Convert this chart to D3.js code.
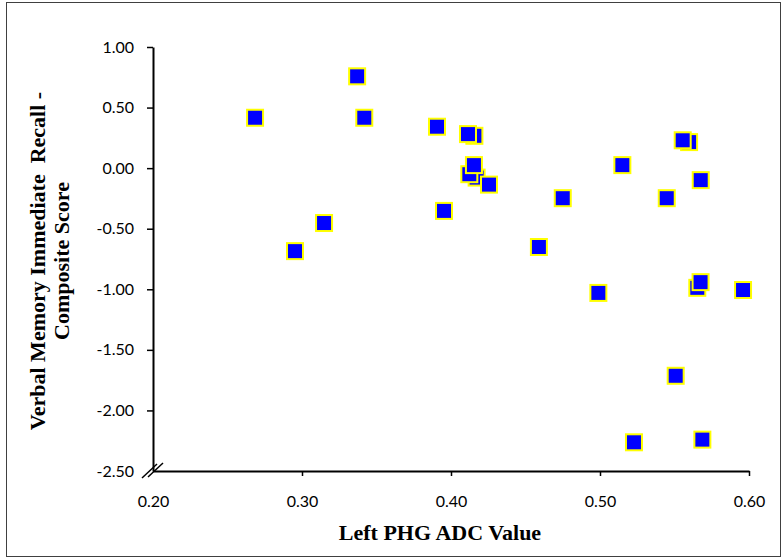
<!DOCTYPE html>
<html>
<head>
<meta charset="utf-8">
<script src="https://cdn.jsdelivr.net/npm/d3@7"></script>
<style>
  body { margin: 0; background: #fff; }
  svg { display: block; }
</style>
</head>
<body>
<div id="chart"></div>
<script>
// values, drawn back to front
const adcValues = [0.2685, 0.2953, 0.3148, 0.337, 0.3418, 0.3906, 0.3953,
    0.4157, 0.4114, 0.4172, 0.4255, 0.4123, 0.4154, 0.459, 0.475, 0.4989,
    0.515, 0.5228, 0.5448, 0.5508, 0.5598, 0.5555, 0.5653, 0.5675, 0.5676,
    0.5687, 0.596];
const recallScores = [0.416, -0.685, -0.453, 0.758, 0.416, 0.342, -0.353,
    0.267, 0.281, -0.078, -0.136, -0.05, 0.025, -0.651, -0.248, -1.03,
    0.025, -2.263, -0.248, -1.714, 0.215, 0.23, -0.988, -0.941, -0.099,
    -2.241, -1.006];
const xTicks = [0.2, 0.3, 0.4, 0.5, 0.6];
const yTicks = [1.0, 0.5, 0.0, -0.5, -1.0, -1.5, -2.0, -2.5];
const xTitle = "Left PHG ADC Value";
const yTitle = ["Verbal Memory Immediate  Recall -", "Composite Score"];

const width = 783, height = 560;
const plotLeft = 153, plotRight = 749, plotTop = 47, plotBottom = 471;

const svg = d3.select("#chart").append("svg")
    .attr("width", width)
    .attr("height", height);

// outer frame
svg.append("rect")
    .attr("x", 6.5).attr("y", 2.5)
    .attr("width", 774).attr("height", 554)
    .style("fill", "none")
    .style("stroke", "#404040")
    .style("stroke-width", 1);

const x = d3.scaleLinear().domain([0.2, 0.6]).range([plotLeft, plotRight]);
const y = d3.scaleLinear().domain([-2.5, 1.0]).range([plotBottom, plotTop]);

// plain hyphen for negatives, like the original
const fmt = d => d.toFixed(2);

const xAxis = svg.append("g")
    .attr("transform", `translate(0,${plotBottom})`)
    .call(d3.axisBottom(x).tickValues(xTicks).tickSize(5).tickSizeOuter(0)
        .tickFormat(fmt));

const yAxis = svg.append("g")
    .attr("transform", `translate(${plotLeft},0)`)
    .call(d3.axisLeft(y).tickValues(yTicks).tickSize(6).tickSizeOuter(0)
        .tickFormat(fmt));

[xAxis, yAxis].forEach(g => {
    g.select(".domain").style("stroke", "#000").style("stroke-width", 2);
    g.selectAll(".tick line").style("stroke", "#000").style("stroke-width", 1.5);
    g.selectAll(".tick text")
        .style("font-family", "Lato, 'Open Sans', sans-serif")
        .style("font-size", "16px")
        .style("fill", "#000");
});
// the break hides the first tick of each axis
xAxis.selectAll(".tick").filter(d => d === 0.2).select("line").remove();
yAxis.selectAll(".tick").filter(d => d === -2.5).select("line").remove();
xAxis.selectAll(".tick text").attr("y", 25);
yAxis.selectAll(".tick text").attr("x", -19);

// axis break marks
[[142, 478, 157, 464], [148, 477, 163, 463]].forEach(s => {
    svg.append("line")
        .attr("x1", s[0]).attr("y1", s[1])
        .attr("x2", s[2]).attr("y2", s[3])
        .style("stroke", "#000")
        .style("stroke-width", 1.5);
});

const size = 16;
svg.append("g").selectAll("rect")
    .data(adcValues.map((v, i) => [v, recallScores[i]]))
    .join("rect")
    .attr("x", d => x(d[0]) - size / 2)
    .attr("y", d => y(d[1]) - size / 2)
    .attr("width", size)
    .attr("height", size)
    .style("fill", "#0000ff")
    .style("stroke", "#ffff00")
    .style("stroke-width", 2);

svg.append("text")
    .attr("x", 440).attr("y", 540)
    .attr("text-anchor", "middle")
    .style("font-family", "'Liberation Serif', 'Times New Roman', serif")
    .style("font-weight", "bold")
    .style("font-size", "22px")
    .text(xTitle);

const yt = svg.append("text")
    .attr("transform", "translate(45,261) rotate(-90)")
    .attr("text-anchor", "middle")
    .style("font-family", "'Liberation Serif', 'Times New Roman', serif")
    .style("font-weight", "bold")
    .style("font-size", "22px")
    .style("white-space", "pre");
yt.selectAll("tspan")
    .data(yTitle)
    .join("tspan")
    .attr("x", 0)
    .attr("dy", (d, i) => i === 0 ? 0 : 24)
    .text(d => d);
</script>
</body>
</html>
